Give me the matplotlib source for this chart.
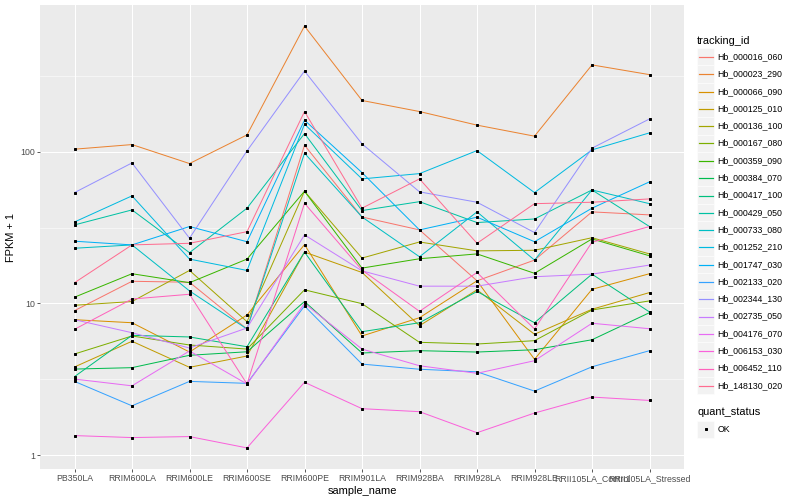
import numpy as np
import matplotlib
matplotlib.use("Agg")
import matplotlib.pyplot as plt
from matplotlib.lines import Line2D
from matplotlib.patches import Rectangle
from matplotlib.ticker import FixedLocator, NullFormatter

plt.rcParams['font.family'] = ['Liberation Sans', 'DejaVu Sans']

# ---------------- data (FPKM + 1) ----------------
samples = ["PB350LA", "RRIM600LA", "RRIM600LE", "RRIM600SE", "RRIM600PE",
           "RRIM901LA", "RRIM928BA", "RRIM928LA", "RRIM928LE",
           "RRII105LA_Control", "RRII105LA_Stressed"]

tracking_ids = ["Hb_000016_060", "Hb_000023_290", "Hb_000066_090", "Hb_000125_010",
                "Hb_000136_100", "Hb_000167_080", "Hb_000359_090", "Hb_000384_070",
                "Hb_000417_100", "Hb_000429_050", "Hb_000733_080", "Hb_001252_210",
                "Hb_001747_030", "Hb_002133_020", "Hb_002344_130", "Hb_002735_050",
                "Hb_004176_070", "Hb_006153_030", "Hb_006452_110", "Hb_148130_020"]

hb_000016_060 = [8.97, 14.0, 13.8, 6.79, 110.2, 37.1, 30.5, 14.1, 19.3, 40.1, 38.3]
hb_000023_290 = [103.7, 111.2, 83.4, 128.8, 670, 217, 183.5, 149.3, 126.3, 372, 321]
hb_000066_090 = [7.82, 7.47, 4.79, 8.40, 24.4, 6.11, 8.06, 14.1, 4.29, 12.4, 15.7]
hb_000125_010 = [3.82, 5.64, 3.80, 4.51, 21.8, 16.0, 7.14, 12.3, 6.27, 9.16, 11.8]
hb_000136_100 = [9.73, 10.3, 16.5, 7.59, 54.8, 19.9, 25.4, 22.2, 22.4, 27.1, 21.2]
hb_000167_080 = [4.65, 6.11, 5.33, 5.01, 12.3, 9.97, 5.55, 5.41, 5.69, 9.06, 10.4]
hb_000359_090 = [11.0, 15.7, 13.7, 19.6, 54.8, 17.1, 19.7, 21.2, 15.8, 26.6, 20.6]
hb_000384_070 = [3.70, 3.78, 4.56, 4.81, 10.3, 4.72, 4.89, 4.79, 4.96, 5.77, 8.70]
hb_000417_100 = [3.30, 6.17, 6.02, 5.19, 21.8, 6.52, 7.47, 12.0, 7.47, 15.6, 8.79]
hb_000429_050 = [32.9, 41.3, 21.6, 42.4, 131.4, 40.9, 46.8, 34.1, 36.0, 55.9, 32.1]
hb_000733_080 = [23.1, 24.3, 12.1, 6.79, 97.6, 37.1, 20.3, 40.1, 19.3, 55.9, 45.4]
hb_001252_210 = [34.4, 51.1, 19.6, 16.5, 151.5, 66.1, 71.6, 101.5, 53.7, 102.6, 132.8]
hb_001747_030 = [25.7, 24.3, 32.1, 25.5, 161.0, 72.7, 30.5, 37.0, 25.5, 42.4, 63.2]
hb_002133_020 = [3.07, 2.12, 3.07, 2.98, 9.63, 3.99, 3.69, 3.55, 2.65, 3.83, 4.89]
hb_002344_130 = [53.7, 84.2, 26.9, 101.1, 339, 112.4, 54.3, 46.4, 29.3, 105.3, 164]
hb_002735_050 = [7.82, 6.42, 5.09, 6.90, 28.3, 16.4, 13.0, 13.0, 15.0, 15.6, 17.9]
hb_004176_070 = [3.18, 2.87, 4.87, 2.95, 10.0, 5.01, 3.89, 3.47, 4.20, 7.41, 6.82]
hb_006153_030 = [1.35, 1.31, 1.33, 1.12, 3.03, 2.03, 1.94, 1.41, 1.90, 2.42, 2.30]
hb_006452_110 = [6.76, 10.7, 11.5, 2.95, 45.7, 16.6, 8.88, 16.0, 6.79, 25.3, 32.1]
hb_148130_020 = [13.7, 24.3, 24.9, 29.7, 183.5, 42.4, 66.1, 24.9, 45.4, 46.4, 48.8]

series_values = [hb_000016_060, hb_000023_290, hb_000066_090, hb_000125_010,
                 hb_000136_100, hb_000167_080, hb_000359_090, hb_000384_070,
                 hb_000417_100, hb_000429_050, hb_000733_080, hb_001252_210,
                 hb_001747_030, hb_002133_020, hb_002344_130, hb_002735_050,
                 hb_004176_070, hb_006153_030, hb_006452_110, hb_148130_020]

colors = ["#F8766D", "#EA8331", "#D89000", "#C09B00", "#A3A500", "#7CAE00",
          "#39B600", "#00BB4E", "#00BF7D", "#00C1A3", "#00BFC4", "#00BAE0",
          "#00B0F6", "#35A2FF", "#9590FF", "#C77CFF", "#E76BF3", "#FA62DB",
          "#FF62BC", "#FF6C90"]

# ---------------- figure ----------------
W, H = 800, 500
DPI = 72
fig = plt.figure(figsize=(W / DPI, H / DPI), dpi=DPI)
fig.patch.set_facecolor("white")

def fx(px):
    return px / W

def fy(py):
    return 1 - py / H

pl, pr, pt, pb = 40, 684, 5, 469
ax = fig.add_axes([fx(pl), fy(pb), fx(pr) - fx(pl), fy(pt) - fy(pb)])
ax.set_facecolor("#EBEBEB")
for s in ax.spines.values():
    s.set_visible(False)

x = np.arange(len(samples))
for vals, col in zip(series_values, colors):
    ax.plot(x, vals, color=col, lw=1.0, zorder=3, solid_capstyle="butt")
for vals in series_values:
    ax.plot(x, vals, linestyle="none", marker="s", markersize=2.7,
            color="black", zorder=4)

ax.set_yscale("log")
allv = np.log10(np.concatenate([np.array(v) for v in series_values]))
lo, hi = allv.min(), allv.max()
rng = hi - lo
ax.set_ylim(10 ** (lo - 0.05 * rng), 10 ** (hi + 0.05 * rng))
ax.set_xlim(-0.6, len(samples) - 1 + 0.6)

ax.yaxis.set_major_locator(FixedLocator([1, 10, 100, 1000]))
ax.yaxis.set_minor_locator(FixedLocator([10 ** -0.5, 10 ** 0.5, 10 ** 1.5, 10 ** 2.5]))
ax.yaxis.set_minor_formatter(NullFormatter())
ax.set_yticklabels(["1", "10", "100", "1000"])
ax.set_xticks(x)
ax.set_xticklabels(samples)

ax.grid(which="major", color="white", lw=1.07, zorder=1)
ax.grid(which="minor", axis="y", color="white", lw=0.53, zorder=1)
ax.set_axisbelow(True)

ax.tick_params(axis="both", which="major", length=2.75, width=0.8, color="#333333",
               labelsize=8.8, labelcolor="#4D4D4D", pad=2)
ax.tick_params(axis="y", which="minor", length=0)

ax.set_xlabel("sample_name", fontsize=11, color="black", labelpad=3)
ax.set_ylabel("FPKM + 1", fontsize=11, color="black", labelpad=4)

# ---------------- legend (ggplot style) ----------------
key = 17.3
kx0 = 697
fig.text(fx(kx0), fy(40.5), "tracking_id", fontsize=11, ha="left", va="center")
y0 = 48.0
for i, (tid, col) in enumerate(zip(tracking_ids, colors)):
    ytop = y0 + i * key
    fig.patches.append(Rectangle((fx(kx0), fy(ytop + key)), key / W, key / H,
                                 transform=fig.transFigure, facecolor="#F2F2F2",
                                 edgecolor="white", lw=0.5, zorder=1))
    yc = np.floor(ytop + key / 2) + 0.5
    fig.lines.append(Line2D([fx(kx0 + 1.7), fx(kx0 + key - 1.7)], [fy(yc), fy(yc)],
                            transform=fig.transFigure, color=col, lw=1.2, zorder=5))
    fig.text(fx(kx0 + key + 3), fy(ytop + key / 2), tid, fontsize=8.8,
             ha="left", va="center")

fig.text(fx(kx0), fy(412), "quant_status", fontsize=11, ha="left", va="center")
ytop = 420.5
fig.patches.append(Rectangle((fx(kx0), fy(ytop + key)), key / W, key / H,
                             transform=fig.transFigure, facecolor="#F2F2F2",
                             edgecolor="white", lw=0.5, zorder=1))
yc = ytop + key / 2
fig.lines.append(Line2D([fx(kx0 + key / 2)], [fy(yc)], transform=fig.transFigure,
                        marker="s", markersize=2.7, color="black", linestyle="none",
                        zorder=5))
fig.text(fx(kx0 + key + 3), fy(yc), "OK", fontsize=8.8, ha="left", va="center")

fig.savefig("out.png", dpi=DPI)
